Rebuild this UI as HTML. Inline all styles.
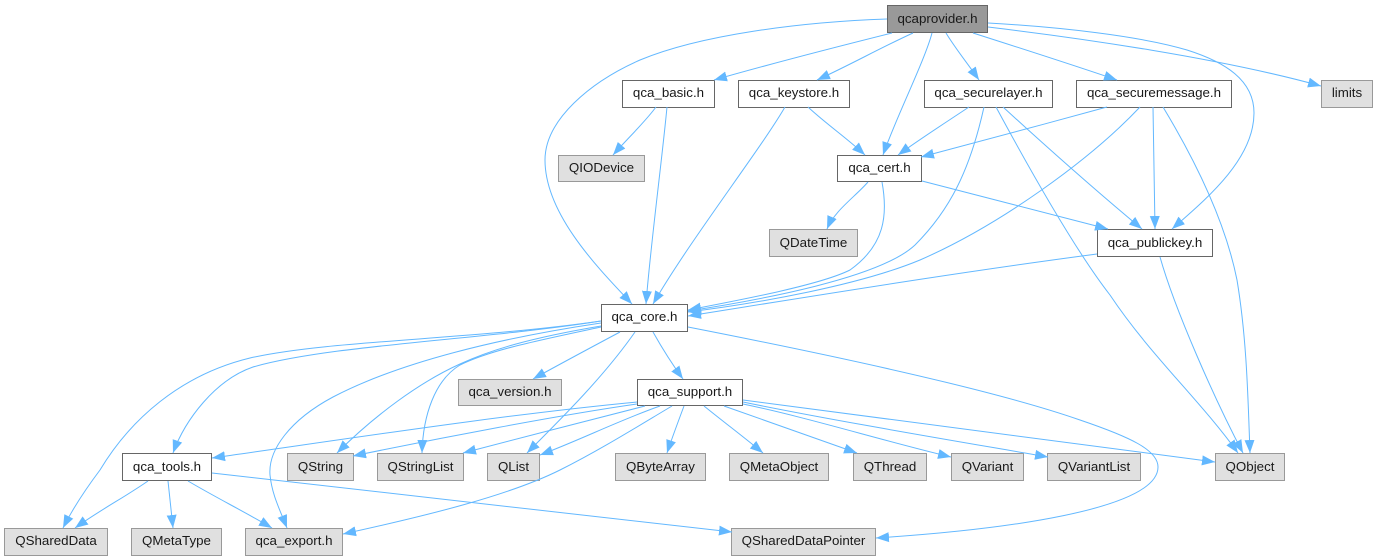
<!DOCTYPE html>
<html>
<head>
<meta charset="utf-8">
<style>
html,body{margin:0;padding:0;background:#fff;}
svg{display:block;}
text{font-family:"Liberation Sans",Arial,sans-serif;font-size:13.33px;fill:#191919;text-anchor:middle;}
.n rect{fill:#fff;stroke:#666;stroke-width:1;}
.g rect{fill:#e0e0e0;stroke:#999;stroke-width:1;}
.r rect{fill:#999;stroke:#666;stroke-width:1;}
.e path{fill:none;stroke:#63b8ff;stroke-width:1;marker-end:url(#a);}
</style>
</head>
<body>
<svg width="1377" height="560" viewBox="0 0 1377 560" xmlns="http://www.w3.org/2000/svg">
<defs>
<marker id="a" markerUnits="userSpaceOnUse" markerWidth="14" markerHeight="12" refX="13" refY="6" orient="auto">
<polygon points="0,1 13,6 0,11" fill="#63b8ff"/>
</marker>
</defs>

<g class="r"><rect x="887.5" y="5.5" width="100" height="27"/><text x="937.5" y="23">qcaprovider.h</text></g>

<g class="n"><rect x="622.5" y="80.5" width="92" height="27"/><text x="668.5" y="97">qca_basic.h</text></g>
<g class="n"><rect x="738.5" y="80.5" width="111" height="27"/><text x="794" y="97">qca_keystore.h</text></g>
<g class="n"><rect x="924.5" y="80.5" width="128" height="27"/><text x="988.5" y="97">qca_securelayer.h</text></g>
<g class="n"><rect x="1076.5" y="80.5" width="155" height="27"/><text x="1154" y="97">qca_securemessage.h</text></g>
<g class="g"><rect x="1321.5" y="80.5" width="51" height="27"/><text x="1347" y="97">limits</text></g>

<g class="g"><rect x="558.5" y="155.5" width="86" height="26"/><text x="601.5" y="172">QIODevice</text></g>
<g class="n"><rect x="837.5" y="155.5" width="84" height="26"/><text x="879.5" y="172">qca_cert.h</text></g>

<g class="g"><rect x="769.5" y="229.5" width="88" height="27"/><text x="813.5" y="247">QDateTime</text></g>
<g class="n"><rect x="1097.5" y="229.5" width="115" height="27"/><text x="1155" y="247">qca_publickey.h</text></g>

<g class="n"><rect x="601.5" y="304.5" width="86" height="27"/><text x="644.5" y="321">qca_core.h</text></g>

<g class="g"><rect x="458.5" y="379.5" width="103" height="26"/><text x="510" y="396">qca_version.h</text></g>
<g class="n"><rect x="637.5" y="379.5" width="105" height="26"/><text x="690" y="396">qca_support.h</text></g>

<g class="n"><rect x="122.5" y="453.5" width="89" height="27"/><text x="167" y="471">qca_tools.h</text></g>
<g class="g"><rect x="287.5" y="453.5" width="66" height="27"/><text x="320.5" y="471">QString</text></g>
<g class="g"><rect x="377.5" y="453.5" width="86" height="27"/><text x="420.5" y="471">QStringList</text></g>
<g class="g"><rect x="487.5" y="453.5" width="52" height="27"/><text x="513.5" y="471">QList</text></g>
<g class="g"><rect x="615.5" y="453.5" width="90" height="27"/><text x="660.5" y="471">QByteArray</text></g>
<g class="g"><rect x="729.5" y="453.5" width="99" height="27"/><text x="779" y="471">QMetaObject</text></g>
<g class="g"><rect x="853.5" y="453.5" width="73" height="27"/><text x="890" y="471">QThread</text></g>
<g class="g"><rect x="951.5" y="453.5" width="72" height="27"/><text x="987.5" y="471">QVariant</text></g>
<g class="g"><rect x="1047.5" y="453.5" width="93" height="27"/><text x="1094" y="471">QVariantList</text></g>
<g class="g"><rect x="1215.5" y="453.5" width="69" height="27"/><text x="1250" y="471">QObject</text></g>

<g class="g"><rect x="4.5" y="528.5" width="103" height="27"/><text x="56" y="545">QSharedData</text></g>
<g class="g"><rect x="131.5" y="528.5" width="90" height="27"/><text x="176.5" y="545">QMetaType</text></g>
<g class="g"><rect x="245.5" y="528.5" width="97" height="27"/><text x="294" y="545">qca_export.h</text></g>
<g class="g"><rect x="731.5" y="528.5" width="144" height="27"/><text x="803.5" y="545">QSharedDataPointer</text></g>

<g class="e">
<!-- provider -->
<path d="M887,19 C800,22 700,35 640,60 C590,82 545,120 545,160 C545,215 600,270 632,304"/>
<path d="M892,33 C840,46 770,64 714,80"/>
<path d="M913,33 C880,48 850,65 817,80"/>
<path d="M932,33 C925,60 895,120 883,155"/>
<path d="M946,33 C955,48 968,64 979,80"/>
<path d="M973,33 C1020,48 1070,64 1117,80"/>
<path d="M988,27 C1080,38 1220,58 1321,86"/>
<path d="M988,23 C1060,27 1140,36 1187,50 C1225,62 1254,80 1254,113 C1254,160 1205,200 1172,229"/>
<!-- basic -->
<path d="M656,107 C645,122 628,138 613,155"/>
<path d="M667,107 C662,160 650,250 646,304"/>
<!-- keystore -->
<path d="M785,107 C760,150 690,240 653,304"/>
<path d="M808,107 C825,123 848,139 865,155"/>
<!-- securelayer -->
<path d="M969,107 C945,123 920,139 898,155"/>
<path d="M984,107 C970,170 950,210 915,245 C880,278 760,300 688,311"/>
<path d="M1003,107 C1050,150 1095,190 1142,229"/>
<path d="M996,107 C1030,170 1075,250 1110,295 C1150,355 1200,400 1238,453"/>
<!-- securemessage -->
<path d="M1107,107 C1045,124 985,140 921,157"/>
<path d="M1140,107 C1090,160 1000,225 920,260 C860,285 760,303 688,312"/>
<path d="M1153,107 L1155,229"/>
<path d="M1163,107 C1195,160 1225,220 1237,280 C1247,340 1248,400 1250,453"/>
<!-- cert -->
<path d="M882,182 C888,215 885,245 850,270 C820,285 740,300 688,310"/>
<path d="M868,182 C855,197 835,210 827,229"/>
<path d="M922,181 C985,197 1045,213 1108,229"/>
<!-- publickey -->
<path d="M1097,254 C960,272 820,295 688,316"/>
<path d="M1160,257 C1175,310 1215,400 1243,453"/>
<!-- core -->
<path d="M653,332 C662,348 672,364 683,379"/>
<path d="M620,332 C590,348 560,364 533,379"/>
<path d="M635,332 C605,375 565,415 527,453"/>
<path d="M601,327 C540,340 490,350 460,365 C435,380 423,415 422,453"/>
<path d="M601,326 C530,338 490,350 460,364 C420,382 375,415 337,453"/>
<path d="M601,323 C500,338 400,362 333,397 C290,420 268,450 270,475 C272,495 280,510 287,528"/>
<path d="M601,321 C480,340 330,345 253,367 C215,380 185,420 173,453"/>
<path d="M601,321 C470,340 330,340 250,358 C180,375 130,420 100,470 C85,490 72,510 63,528"/>
<path d="M688,327 C780,345 980,385 1080,420 C1130,437 1158,450 1158,467 C1158,510 1000,530 876,538"/>
<!-- support -->
<path d="M637,402 C500,415 340,440 212,458"/>
<path d="M637,404 C560,415 440,438 353,456"/>
<path d="M645,406 C590,420 520,438 463,453"/>
<path d="M660,406 C620,420 580,440 540,455"/>
<path d="M672,406 C640,425 600,450 560,470 C510,495 430,515 343,534"/>
<path d="M684,406 C678,422 672,438 667,453"/>
<path d="M704,406 C725,423 745,438 763,453"/>
<path d="M724,406 C770,422 815,438 857,453"/>
<path d="M743,404 C810,418 880,440 951,457"/>
<path d="M743,402 C830,420 950,440 1048,457"/>
<path d="M743,400 C880,418 1040,440 1215,462"/>
<!-- tools -->
<path d="M148,481 C125,497 100,510 75,528"/>
<path d="M168,481 L173,528"/>
<path d="M188,481 C215,497 245,512 272,528"/>
<path d="M212,473 L732,532"/>
</g>
</svg>
</body>
</html>
